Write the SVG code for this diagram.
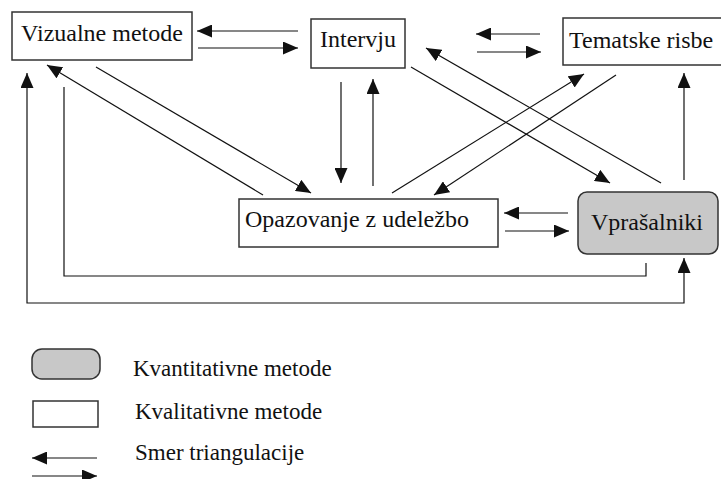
<svg xmlns="http://www.w3.org/2000/svg" width="721" height="479" viewBox="0 0 721 479">
<defs>
<style>
.box{fill:#ffffff;stroke:#333333;stroke-width:1.5}
.quant{fill:#c8c8c8;stroke:#333333;stroke-width:1.5}
.lbl{font-family:'Liberation Serif','Times New Roman',serif;font-size:24px;fill:#111111}
.leg{font-family:'Liberation Serif','Times New Roman',serif;font-size:23px;fill:#111111}
.ln{fill:none;stroke:#111111;stroke-width:1.2}
.arr{fill:none;stroke:#111111;stroke-width:1.2;marker-end:url(#ah)}
</style>
<marker id="ah" markerWidth="15" markerHeight="13" refX="15" refY="6.5" orient="auto" markerUnits="userSpaceOnUse">
<path d="M0,0 L15,6.5 L0,13 z" fill="#111111"/>
</marker>
<marker id="ahs" markerWidth="15" markerHeight="13" refX="0" refY="6.5" orient="auto" markerUnits="userSpaceOnUse">
<path d="M15,0 L0,6.5 L15,13 z" fill="#111111"/>
</marker>
</defs>
<rect width="721" height="479" fill="#ffffff"/>

<g id="connectors">
<line class="arr" x1="298" y1="31" x2="197" y2="31"/>
<line class="arr" x1="198" y1="48" x2="298" y2="48"/>
<line class="arr" x1="540" y1="34" x2="476" y2="34"/>
<line class="arr" x1="477" y1="52" x2="541" y2="52"/>
<line class="arr" x1="341" y1="82" x2="341" y2="183"/>
<line class="arr" x1="373" y1="186" x2="373" y2="79"/>
<line class="arr" x1="96" y1="67" x2="311" y2="193"/>
<line class="arr" x1="263" y1="195" x2="47" y2="65"/>
<line class="arr" x1="392" y1="193" x2="584" y2="74"/>
<line class="arr" x1="616" y1="75" x2="434" y2="195"/>
<line class="arr" x1="411" y1="67" x2="610" y2="183"/>
<line class="arr" x1="661" y1="183" x2="426" y2="48"/>
<line class="arr" x1="684" y1="180" x2="684" y2="73"/>
<line class="arr" x1="568" y1="213" x2="504" y2="213"/>
<line class="arr" x1="505" y1="231" x2="569" y2="231"/>
<polyline class="ln" points="646,263 646,276 64,276 64,87"/>
<polyline class="ln" style="marker-start:url(#ahs);marker-end:url(#ah)" points="684,258 684,303 27,303 27,73"/>
</g>

<g id="vizualne">
<rect class="box" x="12" y="12" width="180" height="48"/>
<text class="lbl" x="102" y="41" text-anchor="middle">Vizualne metode</text>
</g>
<g id="intervju">
<rect class="box" x="311" y="19" width="94" height="49"/>
<text class="lbl" x="358" y="47" text-anchor="middle">Intervju</text>
</g>
<g id="tematske">
<rect class="box" x="563" y="18" width="162" height="47"/>
<text class="lbl" x="569" y="48">Tematske risbe</text>
</g>
<g id="opazovanje">
<rect class="box" x="239" y="199" width="259" height="48"/>
<text class="lbl" x="245" y="227">Opazovanje z udeležbo</text>
</g>
<g id="vprasalniki">
<rect class="quant" x="578" y="192" width="140" height="62" rx="9" ry="9"/>
<text class="lbl" x="647" y="230" text-anchor="middle">Vprašalniki</text>
</g>

<g id="legend">
<rect class="quant" x="32" y="349" width="68" height="30" rx="10" ry="10"/>
<text class="leg" x="133" y="376">Kvantitativne metode</text>
<rect class="box" x="33" y="401" width="65" height="26"/>
<text class="leg" x="135" y="419">Kvalitativne metode</text>
<line class="arr" x1="97" y1="458" x2="32" y2="458"/>
<line class="arr" x1="32" y1="476" x2="97" y2="476"/>
<text class="leg" x="135" y="460">Smer triangulacije</text>
</g>
</svg>
